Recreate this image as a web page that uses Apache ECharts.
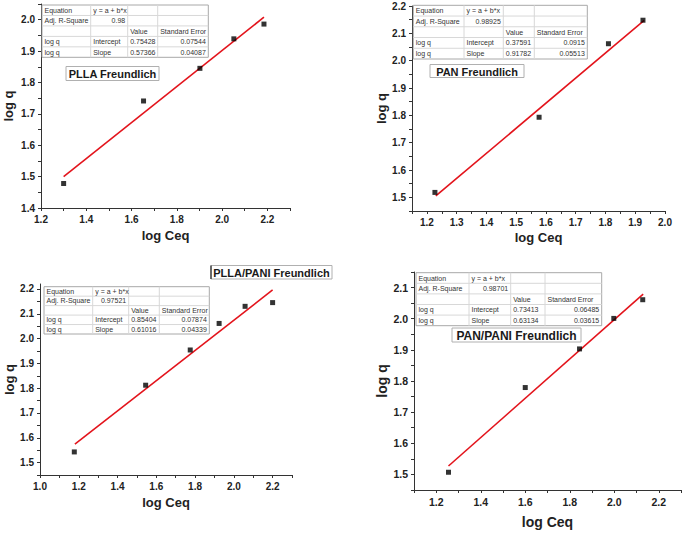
<!DOCTYPE html>
<html>
<head>
<meta charset="utf-8">
<script src="https://cdn.jsdelivr.net/npm/echarts@6/dist/echarts.min.js"></script>
<style>
html,body{margin:0;padding:0;background:#fff;}
#c{width:685px;height:533px;}
</style>
</head>
<body>
<div id="c"></div>
<script>
// ---------- data ----------
const pllaX = [1.300, 1.653, 1.902, 2.052, 2.185];
const pllaY = [1.478, 1.741, 1.845, 1.939, 1.986];
const pllaFitX = [1.300, 2.185];
const pllaFitY = [1.500, 2.008];

const panX = [1.227, 1.577, 1.810, 1.926];
const panY = [1.518, 1.793, 2.062, 2.148];
const panFitX = [1.230, 1.930];
const panFitY = [1.505, 2.147];

const pllaPaniX = [1.177, 1.545, 1.775, 1.924, 2.058, 2.200];
const pllaPaniY = [1.543, 1.812, 1.954, 2.061, 2.130, 2.145];
const pllaPaniFitX = [1.180, 2.200];
const pllaPaniFitY = [1.574, 2.196];

const panPaniX = [1.255, 1.600, 1.844, 1.998, 2.128];
const panPaniY = [1.507, 1.779, 1.903, 2.001, 2.061];
const panPaniFitX = [1.255, 2.130];
const panPaniFitY = [1.527, 2.079];

// ---------- tick labels ----------
const p1XLabels = [1.2, 1.4, 1.6, 1.8, 2.0, 2.2];
const p1XTicks = [1.2, 1.3, 1.4, 1.5, 1.6, 1.7, 1.8, 1.9, 2.0, 2.1, 2.2, 2.3];
const p1YLabels = [1.4, 1.5, 1.6, 1.7, 1.8, 1.9, 2.0];
const p1YTicks = [1.4, 1.45, 1.5, 1.55, 1.6, 1.65, 1.7, 1.75, 1.8, 1.85, 1.9, 1.95, 2.0, 2.05];

const p2XLabels = [1.2, 1.3, 1.4, 1.5, 1.6, 1.7, 1.8, 1.9, 2.0];
const p2XTicks = [1.15, 1.2, 1.25, 1.3, 1.35, 1.4, 1.45, 1.5, 1.55, 1.6, 1.65, 1.7, 1.75, 1.8, 1.85, 1.9, 1.95, 2.0];
const p2YLabels = [1.5, 1.6, 1.7, 1.8, 1.9, 2.0, 2.1, 2.2];
const p2YTicks = [1.45, 1.5, 1.55, 1.6, 1.65, 1.7, 1.75, 1.8, 1.85, 1.9, 1.95, 2.0, 2.05, 2.1, 2.15, 2.2];

const p3XLabels = [1.0, 1.2, 1.4, 1.6, 1.8, 2.0, 2.2];
const p3XTicks = [1.0, 1.1, 1.2, 1.3, 1.4, 1.5, 1.6, 1.7, 1.8, 1.9, 2.0, 2.1, 2.2, 2.3];
const p3YLabels = [1.5, 1.6, 1.7, 1.8, 1.9, 2.0, 2.1, 2.2];
const p3YTicks = [1.45, 1.5, 1.55, 1.6, 1.65, 1.7, 1.75, 1.8, 1.85, 1.9, 1.95, 2.0, 2.05, 2.1, 2.15, 2.2];

const p4XLabels = [1.2, 1.4, 1.6, 1.8, 2.0, 2.2];
const p4XTicks = [1.1, 1.2, 1.3, 1.4, 1.5, 1.6, 1.7, 1.8, 1.9, 2.0, 2.1, 2.2, 2.3];
const p4YLabels = [1.5, 1.6, 1.7, 1.8, 1.9, 2.0, 2.1];
const p4YTicks = [1.45, 1.5, 1.55, 1.6, 1.65, 1.7, 1.75, 1.8, 1.85, 1.9, 1.95, 2.0, 2.05, 2.1, 2.15];

// ---------- fit tables ----------
const table1 = [
  ['Equation', 'y = a + b*x', '', ''],
  ['Adj. R-Square', '0.98', '', ''],
  ['', '', 'Value', 'Standard Error'],
  ['log q', 'Intercept', '0.75428', '0.07544'],
  ['log q', 'Slope', '0.57366', '0.04087']
];
const table2 = [
  ['Equation', 'y = a + b*x', '', ''],
  ['Adj. R-Square', '0.98925', '', ''],
  ['', '', 'Value', 'Standard Error'],
  ['log q', 'Intercept', '0.37591', '0.0915'],
  ['log q', 'Slope', '0.91782', '0.05513']
];
const table3 = [
  ['Equation', 'y = a + b*x', '', ''],
  ['Adj. R-Square', '0.97521', '', ''],
  ['', '', 'Value', 'Standard Error'],
  ['log q', 'Intercept', '0.85404', '0.07874'],
  ['log q', 'Slope', '0.61016', '0.04339']
];
const table4 = [
  ['Equation', 'y = a + b*x', '', ''],
  ['Adj. R-Square', '0.98701', '', ''],
  ['', '', 'Value', 'Standard Error'],
  ['log q', 'Intercept', '0.73413', '0.06485'],
  ['log q', 'Slope', '0.63134', '0.03615']
];
const titles = ['PLLA Freundlich', 'PAN Freundlich', 'PLLA/PANI Freundlich', 'PAN/PANI Freundlich'];

// ---------- layout ----------
const FONT = 'Liberation Sans, Arial, sans-serif';
const panels = [
  {grid:{left:41, top:4, width:249, height:204}, x:[1.2,2.3], y:[1.4,2.05],
   xl:p1XLabels, xt:p1XTicks, yl:p1YLabels, yt:p1YTicks, xs:pllaX, ys:pllaY, fx:pllaFitX, fy:pllaFitY,
   xGap:21, yGap:26, nameSize:13, labSize:10},
  {grid:{left:412, top:6, width:253, height:205}, x:[1.15,2.0], y:[1.45,2.2],
   xl:p2XLabels, xt:p2XTicks, yl:p2YLabels, yt:p2YTicks, xs:panX, ys:panY, fx:panFitX, fy:panFitY,
   xGap:20, yGap:23, nameSize:13, labSize:10},
  {grid:{left:40, top:284, width:252, height:191}, x:[1.0,2.3], y:[1.45,2.22],
   xl:p3XLabels, xt:p3XTicks, yl:p3YLabels, yt:p3YTicks, xs:pllaPaniX, ys:pllaPaniY, fx:pllaPaniFitX, fy:pllaPaniFitY,
   xGap:21, yGap:20, nameSize:13, labSize:10},
  {grid:{left:414, top:272, width:267, height:218}, x:[1.1,2.3], y:[1.45,2.15],
   xl:p4XLabels, xt:p4XTicks, yl:p4YLabels, yt:p4YTicks, xs:panPaniX, ys:panPaniY, fx:panPaniFitX, fy:panPaniFitY,
   xGap:25, yGap:25, nameSize:14, labSize:10.5}
];

const tableGeom = [
  {cols:[42, 90.7, 127.7, 157.7, 208.3], y0:5, y1:57.3, rows:table1},
  {cols:[413.3, 464, 503.3, 534.3, 587.3], y0:5.3, y1:59, rows:table2},
  {cols:[44, 92.7, 128.7, 159.3, 209.3], y0:286.7, y1:334, rows:table3},
  {cols:[416, 469, 510.7, 545, 601.7], y0:272.7, y1:325.7, rows:table4}
];
const titleGeom = [
  {x:66, y:66.5, w:93, h:14, size:11},
  {x:430, y:64.5, w:94, h:13, size:11},
  {x:211, y:265.5, w:121, h:13.5, size:11, darkLeft:true},
  {x:452, y:328, w:129, h:14, size:12}
];

// alignment per column for a cell: row index, col index
function cellAlign(r, c) {
  if (r === 1 && c === 1) return 'right';
  if (r >= 3 && c === 3) return 'right';
  return 'left';
}

const graphics = [];
tableGeom.forEach(t => {
  const x0 = t.cols[0], x1 = t.cols[4];
  const rh = (t.y1 - t.y0) / 5;
  graphics.push({type:'rect', shape:{x:x0, y:t.y0, width:x1-x0, height:t.y1-t.y0},
    style:{fill:'#fff', stroke:'#a8a8a8', lineWidth:1}, z:10});
  for (let r = 1; r < 5; r++) {
    const yy = t.y0 + rh*r;
    graphics.push({type:'line', shape:{x1:x0, y1:yy, x2:x1, y2:yy}, style:{stroke:'#d8d8d8', lineWidth:1}, z:11});
  }
  for (let c = 1; c < 4; c++) {
    graphics.push({type:'line', shape:{x1:t.cols[c], y1:t.y0, x2:t.cols[c], y2:t.y1}, style:{stroke:'#d8d8d8', lineWidth:1}, z:11});
  }
  t.rows.forEach((row, r) => {
    row.forEach((txt, c) => {
      if (!txt) return;
      const al = cellAlign(r, c);
      const xx = al === 'right' ? t.cols[c+1] - 2.5 : t.cols[c] + 2.5;
      graphics.push({type:'text', x:xx, y:t.y0 + rh*r + rh/2,
        style:{text:txt, fill:'#333', font:'7px ' + FONT, align:al, verticalAlign:'middle'}, z:12});
    });
  });
});
titleGeom.forEach((g, i) => {
  graphics.push({type:'rect', shape:{x:g.x, y:g.y, width:g.w, height:g.h},
    style:{fill:'#fff', stroke:'#b0b0b0', lineWidth:1}, z:10});
  if (g.darkLeft) {
    graphics.push({type:'line', shape:{x1:g.x, y1:g.y, x2:g.x, y2:g.y+g.h}, style:{stroke:'#444', lineWidth:1.5}, z:11});
  }
  graphics.push({type:'text', x:g.x + g.w/2, y:g.y + g.h/2 + 0.5,
    style:{text:titles[i], fill:'#1a1a1a', font:'bold ' + g.size + 'px ' + FONT, align:'center', verticalAlign:'middle'}, z:12});
});

const fmt = v => Number(v).toFixed(1);
const axisCol = '#333';
const option = {
  backgroundColor:'#fff',
  animation:false,
  grid: panels.map(p => Object.assign({containLabel:false}, p.grid)),
  xAxis: panels.map((p, i) => ({
    type:'value', gridIndex:i, min:p.x[0], max:p.x[1],
    name:'log Ceq', nameLocation:'middle', nameGap:p.xGap,
    nameTextStyle:{fontFamily:FONT, fontWeight:'bold', fontSize:p.nameSize, color:'#222'},
    axisLine:{show:true, onZero:false, lineStyle:{color:axisCol, width:1}},
    axisTick:{show:true, inside:false, length:3, customValues:p.xt, lineStyle:{color:axisCol}},
    axisLabel:{customValues:p.xl, formatter:fmt, margin:6, fontFamily:FONT, fontWeight:'bold', fontSize:p.labSize, color:'#222'},
    splitLine:{show:false}
  })),
  yAxis: panels.map((p, i) => ({
    type:'value', gridIndex:i, min:p.y[0], max:p.y[1],
    name:'log q', nameLocation:'middle', nameGap:p.yGap, nameRotate:90,
    nameTextStyle:{fontFamily:FONT, fontWeight:'bold', fontSize:p.nameSize, color:'#222'},
    axisLine:{show:true, onZero:false, lineStyle:{color:axisCol, width:1}},
    axisTick:{show:true, inside:false, length:3, customValues:p.yt, lineStyle:{color:axisCol}},
    axisLabel:{customValues:p.yl, formatter:fmt, margin:6, fontFamily:FONT, fontWeight:'bold', fontSize:p.labSize, color:'#222'},
    splitLine:{show:false}
  })),
  series: [].concat(...panels.map((p, i) => ([
    {type:'line', xAxisIndex:i, yAxisIndex:i, data:p.fx.map((v, k) => [v, p.fy[k]]),
     symbol:'none', lineStyle:{color:'#e3141c', width:1.6}, z:2},
    {type:'scatter', xAxisIndex:i, yAxisIndex:i, data:p.xs.map((v, k) => [v, p.ys[k]]),
     symbol:'rect', symbolSize:5, itemStyle:{color:'#000'}, z:3}
  ]))),
  graphic: graphics
};

const chart = echarts.init(document.getElementById('c'), null, {renderer:'svg'});
chart.setOption(option);
</script>
</body>
</html>
